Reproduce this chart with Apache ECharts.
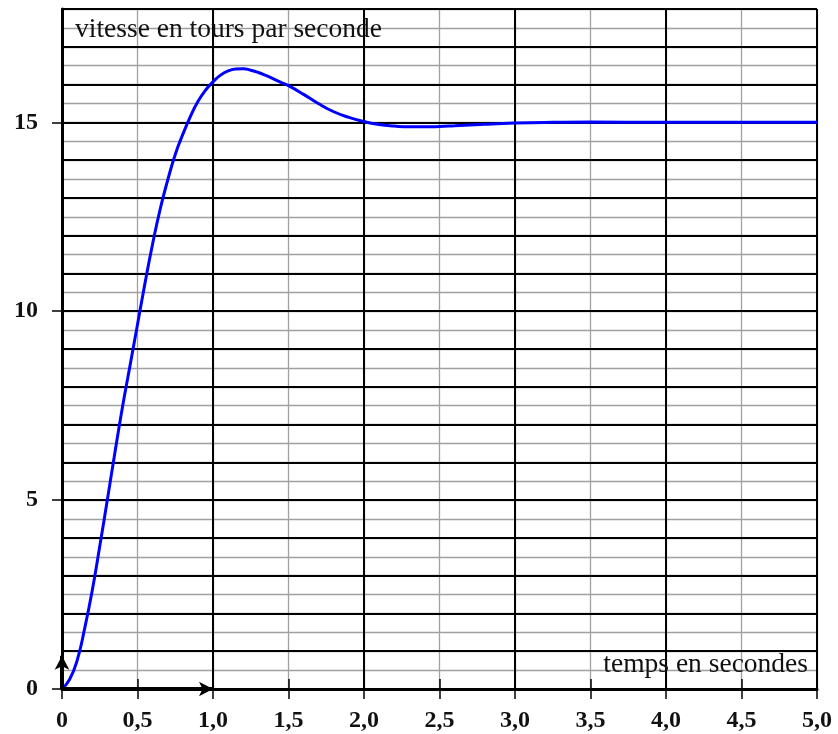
<!DOCTYPE html>
<html>
<head>
<meta charset="utf-8">
<script src="https://cdn.jsdelivr.net/npm/echarts@6/dist/echarts.min.js"></script>
<style>html,body{margin:0;padding:0;background:#fff}#c{width:838px;height:734px}</style>
</head>
<body>
<div id="c"></div>
<script>
// time (s) and speed (tours/s)
const times  = [0, 0.05, 0.1, 0.15, 0.2, 0.25, 0.3, 0.35, 0.4, 0.45, 0.5, 0.55, 0.6, 0.65, 0.7, 0.75, 0.8, 0.85, 0.9, 0.95, 1.0, 1.05, 1.1, 1.15, 1.2, 1.25, 1.3, 1.35, 1.4, 1.45, 1.5, 1.6, 1.7, 1.8, 1.9, 2.0, 2.1, 2.2, 2.3, 2.4, 2.5, 2.6, 2.8, 3.0, 3.25, 3.5, 4.0, 4.5, 5.0];
const speeds = [0, 0.25, 0.75, 1.6, 2.6, 3.78, 5.0, 6.25, 7.45, 8.55, 9.65, 10.75, 11.78, 12.7, 13.47, 14.15, 14.68, 15.15, 15.55, 15.85, 16.07, 16.25, 16.36, 16.41, 16.42, 16.38, 16.32, 16.24, 16.15, 16.06, 15.97, 15.74, 15.49, 15.28, 15.13, 15.02, 14.94, 14.90, 14.88, 14.88, 14.89, 14.91, 14.95, 14.98, 15.0, 15.01, 15.0, 15.0, 15.0];

const xTickValues = [0, 0.5, 1, 1.5, 2, 2.5, 3, 3.5, 4, 4.5, 5];
const xTickLabels = ['0', '0,5', '1,0', '1,5', '2,0', '2,5', '3,0', '3,5', '4,0', '4,5', '5,0'];
const yTickValues = [0, 5, 10, 15];
const yTickLabels = ['0', '5', '10', '15'];

const unitVectorX = [[0, 0], [1, 0]];
const unitVectorY = [[0, 0], [0, 0.88]];

const yTitle = 'vitesse en tours par seconde';
const xTitle = 'temps en secondes';

const chart = echarts.init(document.getElementById('c'), null, {renderer: 'canvas'});
const serif = 'Liberation Serif';
const gray = '#a0a0a0';

const option = {
  animation: false,
  backgroundColor: '#fff',
  title: [
    {text: yTitle, left: 75, top: 16, padding: 0, textStyle: {fontFamily: serif, fontSize: 27.5, fontWeight: 'normal', color: '#111'}},
    {text: xTitle, right: 30, top: 651, padding: 0, textStyle: {fontFamily: serif, fontSize: 27.5, fontWeight: 'normal', color: '#111'}}
  ],
  grid: {left: 62, right: 21, top: 9, bottom: 45, containLabel: false},
  xAxis: [
    { // main axis: line, outside ticks, labels, gray half-unit grid
      type: 'value', min: 0, max: 5, interval: 0.5, position: 'bottom', z: 0,
      axisLine: {show: true, onZero: false, lineStyle: {color: '#000', width: 3}},
      axisTick: {show: true, inside: false, length: 10, lineStyle: {color: '#000', width: 1.5}},
      axisLabel: {
        formatter: function (v) { return xTickLabels[xTickValues.indexOf(Math.round(v * 2) / 2)]; },
        margin: 20, fontFamily: serif, fontWeight: 'bold', fontSize: 24, color: '#111'
      },
      splitLine: {show: true, lineStyle: {color: gray, width: 1.3}}
    },
    { // inside ticks
      type: 'value', min: 0, max: 5, interval: 0.5, position: 'bottom', z: 1,
      axisLine: {show: false},
      axisTick: {show: true, inside: true, length: 10, lineStyle: {color: '#000', width: 1.5}},
      axisLabel: {show: false},
      splitLine: {show: false}
    },
    { // black unit grid
      type: 'value', min: 0, max: 5, interval: 1, position: 'bottom', z: 1,
      axisLine: {show: false}, axisTick: {show: false}, axisLabel: {show: false},
      splitLine: {show: true, lineStyle: {color: '#000', width: 2}}
    }
  ],
  yAxis: [
    { // main axis line + gray half-unit grid
      type: 'value', min: 0, max: 18, interval: 0.5, position: 'left', z: 0,
      axisLine: {show: true, onZero: false, lineStyle: {color: '#000', width: 3}},
      axisTick: {show: false}, axisLabel: {show: false},
      splitLine: {show: true, lineStyle: {color: gray, width: 1.3}}
    },
    { // labels and ticks
      type: 'value', min: 0, max: 18, position: 'left', z: 2,
      axisLine: {show: false},
      axisTick: {show: true, inside: false, length: 10, customValues: yTickValues, lineStyle: {color: '#000', width: 1.5}},
      axisLabel: {
        customValues: yTickValues,
        formatter: function (v) { return yTickLabels[yTickValues.indexOf(v)]; },
        margin: 24, fontFamily: serif, fontWeight: 'bold', fontSize: 24, color: '#111'
      },
      splitLine: {show: false}
    },
    { // black unit grid
      type: 'value', min: 0, max: 18, interval: 1, position: 'left', z: 1,
      axisLine: {show: false}, axisTick: {show: false}, axisLabel: {show: false},
      splitLine: {show: true, lineStyle: {color: '#000', width: 2}}
    }
  ],
  series: [
    {
      type: 'line',
      xAxisIndex: 0, yAxisIndex: 0,
      data: times.map((t, i) => [t, speeds[i]]),
      showSymbol: false,
      smooth: true,
      lineStyle: {color: '#0000ff', width: 3},
      z: 3,
      markLine: {
        silent: true,
        symbol: ['none', 'arrow'],
        symbolSize: [11, 14],
        label: {show: false},
        lineStyle: {color: '#000', width: 4, type: 'solid'},
        emphasis: {disabled: true},
        data: [
          [{coord: unitVectorX[0]}, {coord: unitVectorX[1]}],
          [{coord: unitVectorY[0]}, {coord: unitVectorY[1]}]
        ]
      }
    }
  ]
};
chart.setOption(option);
</script>
</body>
</html>
